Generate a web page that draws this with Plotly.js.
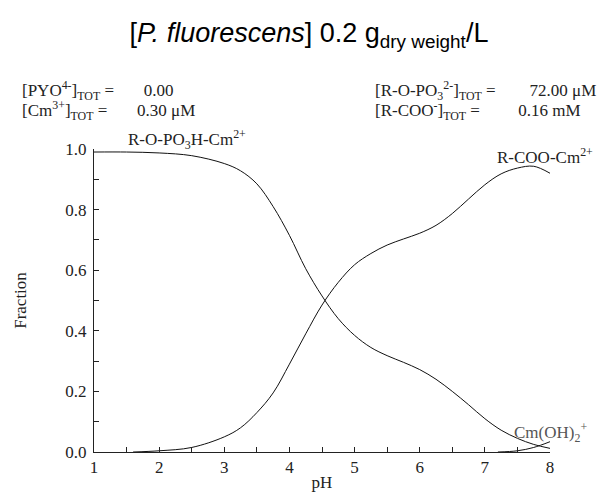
<!DOCTYPE html>
<html>
<head>
<meta charset="utf-8">
<script src="https://cdn.plot.ly/plotly-3.0.1.min.js"></script>
<style>html,body{margin:0;padding:0;background:#fff;}#chart{width:600px;height:492px;}</style>
</head>
<body>
<div id="chart"></div>
<script>
// R-O-PO3H-Cm2+ species
const phosphatePH   = [1.0, 1.5, 2.0, 2.5, 3.0, 3.25, 3.5, 3.75, 4.0, 4.25, 4.5, 4.75, 5.0, 5.25, 5.5, 5.75, 6.0, 6.25, 6.5, 6.75, 7.0, 7.25, 7.5, 7.75, 8.0];
const phosphateFrac = [0.99, 0.99, 0.987, 0.978, 0.952, 0.928, 0.885, 0.81, 0.715, 0.605, 0.515, 0.44, 0.385, 0.345, 0.318, 0.296, 0.272, 0.24, 0.2, 0.156, 0.11, 0.072, 0.045, 0.025, 0.012];
// R-COO-Cm2+ species
const carboxylPH   = [1.6, 2.0, 2.5, 3.0, 3.25, 3.5, 3.75, 4.0, 4.25, 4.5, 4.75, 5.0, 5.25, 5.5, 5.75, 6.0, 6.25, 6.5, 6.75, 7.0, 7.25, 7.5, 7.75, 8.0];
const carboxylFrac = [0.0, 0.004, 0.015, 0.05, 0.08, 0.13, 0.195, 0.29, 0.39, 0.485, 0.56, 0.618, 0.655, 0.683, 0.703, 0.722, 0.748, 0.787, 0.835, 0.882, 0.918, 0.937, 0.943, 0.92];
// Cm(OH)2+ species
const hydroxoPH   = [7.2, 7.5, 7.75, 8.0];
const hydroxoFrac = [0.0, 0.004, 0.015, 0.034];

const speciesLabels = ["R-O-PO<sub>3</sub>H-Cm<sup>2+</sup>", "R-COO-Cm<sup>2+</sup>", "Cm(OH)<sub>2</sub><sup>+</sup>"];
const speciesLabelPH = [2.42, 7.92, 8.0];
const speciesLabelFrac = [1.033, 0.977, 0.066];

const totalsLeftNames  = ["[PYO<sup>4-</sup>]<sub>TOT</sub> =", "[Cm<sup>3+</sup>]<sub>TOT</sub> ="];
const totalsLeftValues = ["0.00", "0.30 \u03bcM"];
const totalsRightNames  = ["[R-O-PO<sub>3</sub><sup>2-</sup>]<sub>TOT</sub> =", "[R-COO<sup>-</sup>]<sub>TOT</sub> ="];
const totalsRightValues = ["72.00 \u03bcM", "0.16 mM"];

const titleText = "[<i>P. fluorescens</i>] 0.2 g<sub>dry weight</sub>/L";

const serif = "Liberation Serif, Times New Roman, serif";
const lineStyle = {color: "#111", width: 1, shape: "spline", smoothing: 1};

const traces = [
  {x: phosphatePH, y: phosphateFrac, mode: "lines", line: lineStyle, name: "R-O-PO3H-Cm2+"},
  {x: carboxylPH, y: carboxylFrac, mode: "lines", line: lineStyle, name: "R-COO-Cm2+"},
  {x: hydroxoPH, y: hydroxoFrac, mode: "lines", line: lineStyle, name: "Cm(OH)2+"}
];

const W = 600, H = 492, L = 94, R = 50, T = 149, B = 40;
const pw = W - L - R, ph = H - T - B;
const px = v => (v - L) / pw;
const py = v => (H - B - v) / ph;
const xPaper = v => (v - 1) / 7;
const gap = n => "\u00a0".repeat(n);

const annotations = [];
const txtFont = {family: serif, size: 17, color: "#222"};
speciesLabels.forEach((t, i) => annotations.push({
  text: t, x: xPaper(speciesLabelPH[i]), y: speciesLabelFrac[i], xref: "paper", yref: "paper",
  showarrow: false, xanchor: "center", yanchor: "middle",
  font: {family: serif, size: 17, color: i === 2 ? "#555" : "#222"}
}));
function addLine(t, xPix, yPix) {
  annotations.push({text: t, x: px(xPix), y: py(yPix), xref: "paper", yref: "paper",
    showarrow: false, xanchor: "left", yanchor: "middle", align: "left", font: txtFont,
    borderpad: 0});
}
const lineY = [90, 110];
const leftGaps = [7, 7], rightGaps = [8, 9];
totalsLeftNames.forEach((t, i) => addLine(t + gap(leftGaps[i]) + totalsLeftValues[i], 21, lineY[i]));
totalsRightNames.forEach((t, i) => addLine(t + gap(rightGaps[i]) + totalsRightValues[i], 374, lineY[i]));

const axisCommon = {
  showgrid: false, zeroline: false, showline: true, linecolor: "#222", linewidth: 1,
  ticks: "inside", ticklen: 5, tickcolor: "#222", tickwidth: 1,
  tickfont: {family: serif, size: 17, color: "#222"}
};

const layout = {
  width: W, height: H,
  margin: {l: L, r: R, t: T, b: B},
  paper_bgcolor: "#fff", plot_bgcolor: "#fff",
  showlegend: false,
  title: {text: titleText, x: 0.515, xanchor: "center", y: 1 - 33 / H, yanchor: "middle", yref: "container",
          font: {family: "Liberation Sans, Arial, sans-serif", size: 27, color: "#000"}},
  xaxis: Object.assign({}, axisCommon, {
    range: [1, 8], dtick: 1, tick0: 1,
    minor: {dtick: 0.5, ticks: "inside", ticklen: 5, tickcolor: "#222"},
    title: {text: "pH", font: {family: serif, size: 17, color: "#222"}, standoff: 2}
  }),
  yaxis: Object.assign({}, axisCommon, {
    range: [0, 1], dtick: 0.2, tick0: 0, tickformat: ".1f", ticklabelstandoff: 3,
    minor: {dtick: 0.1, ticks: "inside", ticklen: 5, tickcolor: "#222"},
    title: {text: "Fraction", font: {family: serif, size: 17, color: "#222"}, standoff: 34}
  }),
  annotations: annotations
};

Plotly.newPlot("chart", traces, layout, {displayModeBar: false, staticPlot: true});
</script>
</body>
</html>
